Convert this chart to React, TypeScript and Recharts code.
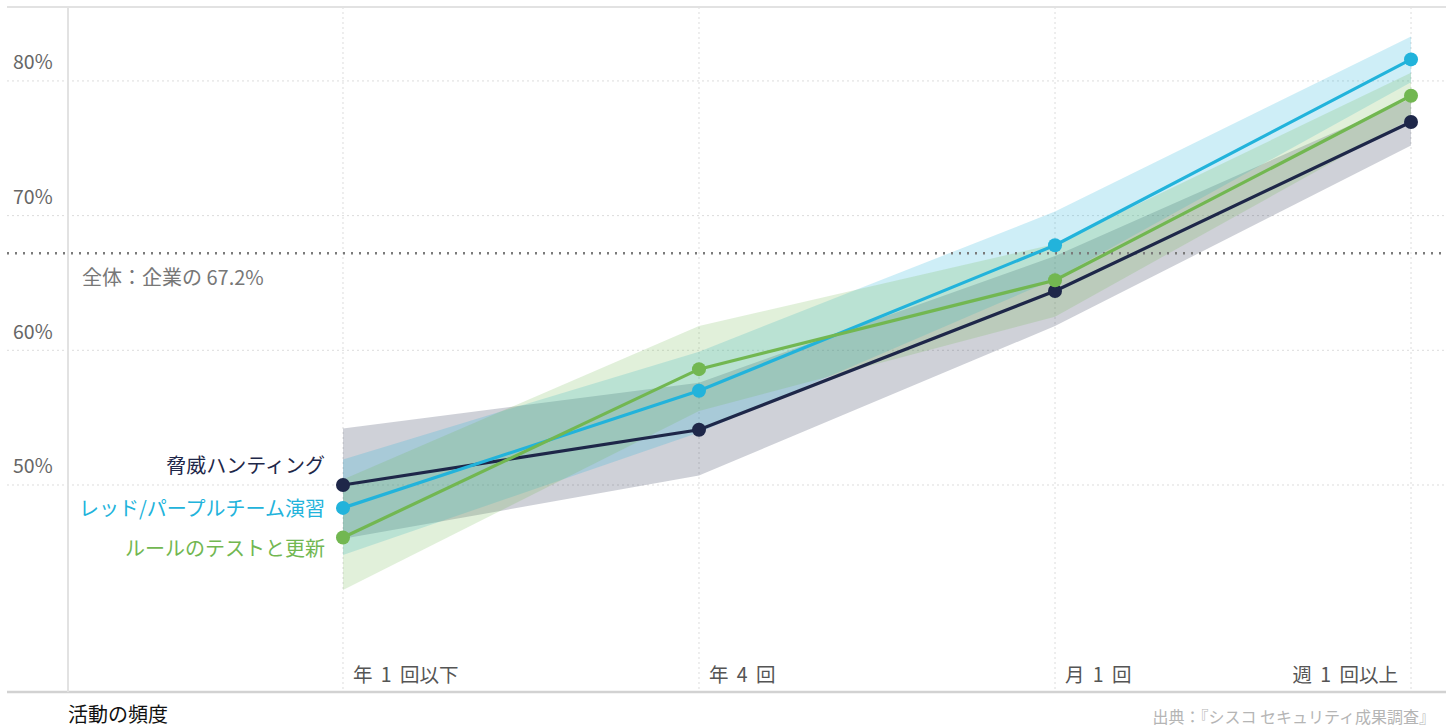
import {
  ComposedChart,
  Area,
  Line,
  XAxis,
  YAxis,
  CartesianGrid,
  ReferenceLine,
  LabelList,
} from "recharts";

const categories = ["年 1 回以下", "年 4 回", "月 1 回", "週 1 回以上"];
const yTicks = [50, 60, 70, 80];

const seriesNames = ["脅威ハンティング", "レッド/パープルチーム演習", "ルールのテストと更新"];

const huntMid = [50.0, 54.1, 64.4, 76.95];
const huntLow = [46.0, 50.7, 61.8, 75.2];
const huntHigh = [54.2, 57.6, 67.0, 78.7];

const redMid = [48.3, 57.0, 67.8, 81.6];
const redLow = [44.8, 53.9, 65.3, 79.9];
const redHigh = [51.9, 59.9, 70.3, 83.3];

const ruleMid = [46.1, 58.6, 65.2, 78.9];
const ruleLow = [42.2, 55.5, 62.5, 77.2];
const ruleHigh = [50.4, 61.8, 67.9, 80.6];

const overall = 67.2;

const NAVY = "#1e2749";
const CYAN = "#22b3db";
const GREEN = "#72b751";
const FONT = "'Noto Sans CJK JP', 'Noto Sans', sans-serif";

const data = categories.map((c, i) => ({
  x: i,
  name: c,
  hunt: huntMid[i],
  huntBand: [huntLow[i], huntHigh[i]],
  red: redMid[i],
  redBand: [redLow[i], redHigh[i]],
  rule: ruleMid[i],
  ruleBand: [ruleLow[i], ruleHigh[i]],
}));

// plot spans x 7..1446, y 7..692 on the page
const X_DOMAIN: [number, number] = [-0.9438, 3.0983];
const Y_DOMAIN: [number, number] = [34.63, 85.49];
const PLOT_BOTTOM = 692;

const renderXTick = (props: any) => {
  const { x, payload } = props;
  const i = payload.value as number;
  const last = i === categories.length - 1;
  return (
    <text
      key={`xt-${i}`}
      x={last ? x - 13 : x + 10}
      y={PLOT_BOTTOM - 19}
      textAnchor={last ? "end" : "start"}
      dominantBaseline="central"
      fontSize={19.5}
      fill="#555"
      fontFamily={FONT}
      style={{ wordSpacing: 4 }}
    >
      {categories[i]}
    </text>
  );
};

const renderYTick = (props: any) => {
  const { y, payload } = props;
  return (
    <text
      key={`yt-${payload.value}`}
      x={13}
      y={y - 20}
      dominantBaseline="central"
      fontSize={19.5}
      fill="#666"
      fontFamily={FONT}
    >
      {`${payload.value}%`}
    </text>
  );
};

function makeSeriesLabel(text: string, color: string, dy: number) {
  return (props: any) => {
    const { x, y, index } = props;
    if (index !== 0) return null;
    return (
      <text
        x={x - 18}
        y={y + dy}
        textAnchor="end"
        dominantBaseline="central"
        fontSize={20}
        fill={color}
        fontFamily={FONT}
      >
        {text}
      </text>
    );
  };
}

function OverallLabel(props: any) {
  const vb = props.viewBox || {};
  return (
    <text
      x={82}
      y={(vb.y ?? 0) + 23}
      dominantBaseline="central"
      fontSize={20}
      fill="#777"
      fontFamily={FONT}
    >
      {`全体：企業の ${overall}%`}
    </text>
  );
}

export default function App() {
  return (
    <div style={{ position: "absolute", left: 0, top: 0, width: 1448, height: 726, background: "#fff" }}>
      <ComposedChart
        width={1448}
        height={726}
        data={data}
        margin={{ top: 7, right: 2, bottom: 34, left: 7 }}
      >
        <CartesianGrid
          stroke="#dcdcdc"
          strokeDasharray="2 3"
          horizontalValues={yTicks}
          verticalValues={[0, 1, 2, 3]}
        />
        <XAxis
          dataKey="x"
          type="number"
          domain={X_DOMAIN}
          ticks={[0, 1, 2, 3]}
          mirror
          axisLine={false}
          tickLine={false}
          tick={renderXTick}
          interval={0}
          allowDataOverflow
        />
        <YAxis
          type="number"
          domain={Y_DOMAIN}
          ticks={yTicks}
          mirror
          axisLine={false}
          tickLine={false}
          tick={renderYTick}
          interval={0}
          allowDataOverflow
        />
        <ReferenceLine y={Y_DOMAIN[1]} stroke="#e2e2e2" strokeWidth={2} />
        <ReferenceLine y={Y_DOMAIN[0]} stroke="#d2d2d2" strokeWidth={2.5} />
        <ReferenceLine x={-0.7725} stroke="#e2e2e2" strokeWidth={2} />

        <Area dataKey="huntBand" stroke="none" fill={NAVY} fillOpacity={0.21} isAnimationActive={false} />
        <Area dataKey="redBand" stroke="none" fill={CYAN} fillOpacity={0.22} isAnimationActive={false} />
        <Area dataKey="ruleBand" stroke="none" fill={GREEN} fillOpacity={0.21} isAnimationActive={false} />

        <ReferenceLine
          y={overall}
          stroke="#7a7a7a"
          strokeWidth={2.5}
          strokeDasharray="2 6"
          label={<OverallLabel />}
        />

        <Line
          dataKey="hunt"
          stroke={NAVY}
          strokeWidth={3.2}
          dot={{ r: 7, fill: NAVY, stroke: "none" }}
          activeDot={false}
          isAnimationActive={false}
        >
          <LabelList dataKey="hunt" content={makeSeriesLabel(seriesNames[0], NAVY, -20)} />
        </Line>
        <Line
          dataKey="red"
          stroke={CYAN}
          strokeWidth={3.2}
          dot={{ r: 7, fill: CYAN, stroke: "none" }}
          activeDot={false}
          isAnimationActive={false}
        >
          <LabelList dataKey="red" content={makeSeriesLabel(seriesNames[1], CYAN, 0)} />
        </Line>
        <Line
          dataKey="rule"
          stroke={GREEN}
          strokeWidth={3.2}
          dot={{ r: 7, fill: GREEN, stroke: "none" }}
          activeDot={false}
          isAnimationActive={false}
        >
          <LabelList dataKey="rule" content={makeSeriesLabel(seriesNames[2], GREEN, 10)} />
        </Line>
      </ComposedChart>
      <div
        style={{
          position: "absolute",
          left: 68,
          top: 702,
          fontFamily: FONT,
          fontSize: 20,
          color: "#111",
          lineHeight: "24px",
        }}
      >
        活動の頻度
      </div>
      <div
        style={{
          position: "absolute",
          right: 13,
          top: 708,
          fontFamily: FONT,
          fontSize: 16,
          color: "#b5b5b5",
          lineHeight: "17px",
          whiteSpace: "nowrap",
        }}
      >
        出典：『シスコ セキュリティ成果調査』
      </div>
    </div>
  );
}
